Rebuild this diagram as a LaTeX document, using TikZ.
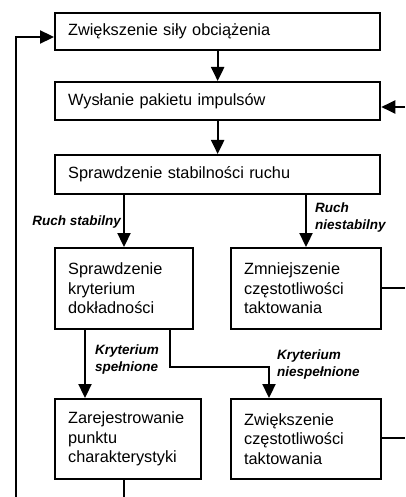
\documentclass[tikz,border=0pt]{standalone}
\usepackage{fontspec}
\setmainfont{Liberation Sans}
\usetikzlibrary{arrows.meta,calc}
\begin{document}
\begin{tikzpicture}[x=1pt,y=-1pt,
  box/.style={draw,line width=2.3pt,fill=white,inner xsep=13pt,inner ysep=0pt,
     font=\fontsize{16.3}{19.5}\selectfont,align=left,anchor=north west},
  lab/.style={font=\fontsize{13.5}{17}\selectfont\bfseries\itshape,inner sep=0pt,align=left},
  con/.style={line width=2.3pt},
  arr/.style={con,-{Triangle[length=14pt,width=13pt]}}]
\useasboundingbox (0,0) rectangle (405,497);
% wide boxes
\node[box,minimum width=325pt,minimum height=37pt,text width=299pt] (b1) at (54,12) {Zwiększenie siły obciążenia};
\node[box,minimum width=325pt,minimum height=38pt,text width=299pt] (b2) at (54,81) {Wysłanie pakietu impulsów};
\node[box,minimum width=325pt,minimum height=39pt,text width=299pt] (b3) at (54,154) {Sprawdzenie stabilności ruchu};
% middle row
\node[box,minimum width=138pt,minimum height=81pt,text width=112pt] (b4) at (54,247) {Sprawdzenie\\kryterium\\dokładności};
\node[box,minimum width=150pt,minimum height=81pt,text width=124pt] (b5) at (230,247) {Zmniejszenie\\częstotliwości\\taktowania};
% bottom row
\node[box,minimum width=146pt,minimum height=80pt,text width=120pt] (b7) at (54,398) {Zarejestrowanie\\punktu\\charakterystyki};
\node[box,minimum width=150pt,minimum height=80pt,text width=124pt] (b6) at (230,398) {Zwiększenie\\częstotliwości\\taktowania};
% coordinates
\coordinate (rin) at (405,107);
\coordinate (lb) at (16,497);
\coordinate (lt) at (16,37);
\coordinate (r5) at (405,288);
\coordinate (r6) at (405,438);
\coordinate (bot) at (124,497);
\coordinate (s4a) at (85,0);
\coordinate (s4b) at (170,0);
\coordinate (s6) at (269,0);
\coordinate (s3a) at (124,0);
\coordinate (s3b) at (306,0);
% connectors
\draw[arr] (b1.south) -- (b2.north);
\draw[arr] (b2.south) -- (b3.north);
\draw[arr] (rin) -- (rin -| b2.east);
\draw[arr] (lb) -- (lt) -- (lt -| b1.west);
\draw[arr] (s3a |- b3.south) -- (s3a |- b4.north);
\draw[arr] (s3b |- b3.south) -- (s3b |- b5.north);
\draw[con] (r5 -| b5.east) -- (r5);
\draw[con] (r6 -| b6.east) -- (r6);
\draw[arr] (s4a |- b4.south) -- (s4a |- b7.north);
\draw[arr] (s4b |- b4.south) -- ($(s4b)+(0,367)$) -- ($(s6)+(0,367)$) -- (s6 |- b6.north);
\draw[con] (bot |- b7.south) -- (bot);
% labels
\node[lab,anchor=east] (l1) at (121,222) {Ruch stabilny};
\node[lab,anchor=west] (l2) at (315,218) {Ruch\\niestabilny};
\node[lab,anchor=west] (l3) at (95,360) {Kryterium\\spełnione};
\node[lab,anchor=west] (l4) at (277,364.5) {Kryterium\\niespełnione};
\end{tikzpicture}
\end{document}
